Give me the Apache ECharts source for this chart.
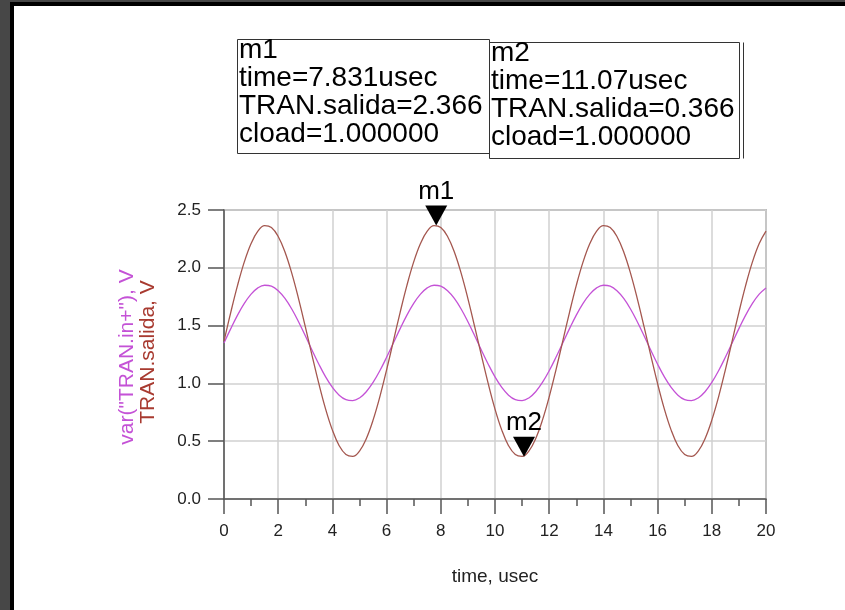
<!DOCTYPE html>
<html>
<head>
<meta charset="utf-8">
<title>TRAN salida</title>
<script src="https://cdn.jsdelivr.net/npm/echarts@6/dist/echarts.min.js"></script>
<style>
    html, body { margin: 0; padding: 0; background: #fff; }
    #chart { width: 845px; height: 610px; }
</style>
</head>
<body>
<div id="chart"></div>
<script>
    // time axis (usec), one sample every 0.25 usec
    var times = [
        0, 0.25, 0.5, 0.75, 1, 1.25, 1.5, 1.75, 2, 2.25, 2.5, 2.75, 3, 3.25, 3.5, 3.75,
        4, 4.25, 4.5, 4.75, 5, 5.25, 5.5, 5.75, 6, 6.25, 6.5, 6.75, 7, 7.25, 7.5, 7.75,
        8, 8.25, 8.5, 8.75, 9, 9.25, 9.5, 9.75, 10, 10.25, 10.5, 10.75, 11, 11.25, 11.5, 11.75,
        12, 12.25, 12.5, 12.75, 13, 13.25, 13.5, 13.75, 14, 14.25, 14.5, 14.75, 15, 15.25, 15.5, 15.75,
        16, 16.25, 16.5, 16.75, 17, 17.25, 17.5, 17.75, 18, 18.25, 18.5, 18.75, 19, 19.25, 19.5, 19.75, 20
    ];

    // TRAN.salida, V
    var salida = [
        1.366, 1.615, 1.848, 2.051, 2.210, 2.317, 2.364, 2.348, 2.271, 2.137, 1.954, 1.734, 1.491,
        1.241, 0.998, 0.778, 0.596, 0.461, 0.384, 0.368, 0.415, 0.522, 0.682, 0.884, 1.117,
        1.366, 1.615, 1.848, 2.051, 2.210, 2.317, 2.364, 2.348, 2.271, 2.137, 1.954, 1.734, 1.491,
        1.241, 0.998, 0.778, 0.596, 0.461, 0.384, 0.368, 0.415, 0.522, 0.682, 0.884, 1.117,
        1.366, 1.615, 1.848, 2.051, 2.210, 2.317, 2.364, 2.348, 2.271, 2.137, 1.954, 1.734, 1.491,
        1.241, 0.998, 0.778, 0.596, 0.461, 0.384, 0.368, 0.415, 0.522, 0.682, 0.884, 1.117,
        1.366, 1.615, 1.848, 2.051, 2.210, 2.317
    ];

    // var("TRAN.in+"), V
    var inPlus = [
        1.350, 1.474, 1.591, 1.692, 1.772, 1.826, 1.849, 1.841, 1.802, 1.735, 1.644, 1.534, 1.413,
        1.287, 1.166, 1.056, 0.965, 0.898, 0.859, 0.851, 0.874, 0.928, 1.008, 1.109, 1.226,
        1.350, 1.474, 1.591, 1.692, 1.772, 1.826, 1.849, 1.841, 1.802, 1.735, 1.644, 1.534, 1.413,
        1.287, 1.166, 1.056, 0.965, 0.898, 0.859, 0.851, 0.874, 0.928, 1.008, 1.109, 1.226,
        1.350, 1.474, 1.591, 1.692, 1.772, 1.826, 1.849, 1.841, 1.802, 1.735, 1.644, 1.534, 1.413,
        1.287, 1.166, 1.056, 0.965, 0.898, 0.859, 0.851, 0.874, 0.928, 1.008, 1.109, 1.226,
        1.350, 1.474, 1.591, 1.692, 1.772, 1.826
    ];

    // marker readouts
    var markerNames = ['m1', 'm2'];
    var markerTimes = [7.831, 11.07];
    var markerValues = [2.366, 0.366];
    var markerCload = ['1.000000', '1.000000'];
    var markerTimeText = ['7.831usec', '11.07usec'];

    var brown = '#a4574f';
    var magenta = '#c452d6';
    var font = '"Liberation Sans", Arial, sans-serif';

    function boxText(i) {
        return [
            markerNames[i],
            'time=' + markerTimeText[i],
            'TRAN.salida=' + markerValues[i].toFixed(3),
            'cload=' + markerCload[i]
        ].join('\n');
    }

    var chart = echarts.init(document.getElementById('chart'));

    var option = {
        backgroundColor: '#fff',
        animation: false,
        grid: {
            left: 224, top: 210, width: 542, height: 289,
            show: true,
            borderColor: '#8a8a8a',
            borderWidth: 1.5
        },
        xAxis: {
            type: 'value',
            min: 0, max: 20, interval: 2,
            name: 'time, usec',
            nameLocation: 'middle',
            nameGap: 68,
            nameTextStyle: { fontFamily: font, fontSize: 19, color: '#222' },
            axisLine: { show: true, lineStyle: { color: '#555', width: 1.5 } },
            axisTick: { show: true, length: 15, lineStyle: { color: '#555', width: 1.5 } },
            minorTick: { show: true, splitNumber: 2, length: 7, lineStyle: { color: '#555', width: 1.5 } },
            axisLabel: { fontFamily: font, fontSize: 17, color: '#222', margin: 24 },
            splitLine: { show: true, lineStyle: { color: '#d0d0d0', width: 1.5 } }
        },
        yAxis: {
            type: 'value',
            min: 0, max: 2.5, interval: 0.5,
            axisLine: { show: true, lineStyle: { color: '#555', width: 1.5 } },
            axisTick: { show: true, length: 16, lineStyle: { color: '#555', width: 1.5 } },
            axisLabel: {
                fontFamily: font, fontSize: 17, color: '#222', margin: 23,
                formatter: function (v) { return v.toFixed(1); }
            },
            splitLine: { show: true, lineStyle: { color: '#d0d0d0', width: 1.5 } }
        },
        series: [
            {
                name: 'var("TRAN.in+")',
                type: 'line',
                showSymbol: false,
                smooth: 0.4,
                lineStyle: { color: magenta, width: 1.3 },
                data: times.map(function (t, i) { return [t, inPlus[i]]; })
            },
            {
                name: 'TRAN.salida',
                type: 'line',
                showSymbol: false,
                smooth: 0.4,
                lineStyle: { color: brown, width: 1.3 },
                data: times.map(function (t, i) { return [t, salida[i]]; }),
                markPoint: {
                    symbol: 'path://M0,0 L20,0 L10,20 Z',
                    symbolSize: [22, 20],
                    symbolOffset: [0, '-50%'],
                    itemStyle: { color: '#000' },
                    label: {
                        show: true, position: 'top', distance: 1,
                        formatter: '{b}', fontFamily: font, fontSize: 26, color: '#000'
                    },
                    data: markerNames.map(function (n, i) {
                        return { name: n, coord: [markerTimes[i], markerValues[i]] };
                    })
                }
            }
        ],
        graphic: [
            // window frame
            { type: 'rect', shape: { x: 0, y: 0, width: 845, height: 6 }, style: { fill: '#000' } },
            { type: 'rect', shape: { x: 0, y: 0, width: 845, height: 2 }, style: { fill: '#474747' } },
            { type: 'rect', shape: { x: 0, y: 0, width: 10, height: 610 }, style: { fill: '#474747' } },
            { type: 'rect', shape: { x: 10, y: 2, width: 4, height: 608 }, style: { fill: '#000' } },
            // marker boxes
            { type: 'rect', shape: { x: 237.5, y: 39.5, width: 252, height: 114 },
              style: { fill: 'none', stroke: '#333', lineWidth: 1 } },
            { type: 'text', left: 239, top: 36,
              style: { text: boxText(0), font: '28px ' + font, fill: '#000', lineHeight: 28 } },
            { type: 'rect', shape: { x: 489.5, y: 42.5, width: 250, height: 116 },
              style: { fill: 'none', stroke: '#333', lineWidth: 1 } },
            { type: 'line', shape: { x1: 743.5, y1: 42.5, x2: 743.5, y2: 158.5 },
              style: { stroke: '#333', lineWidth: 1 } },
            { type: 'text', left: 491, top: 39,
              style: { text: boxText(1), font: '28px ' + font, fill: '#000', lineHeight: 28 } },
            // y axis names
            { type: 'text', x: 127, y: 357, rotation: Math.PI / 2,
              style: { text: 'var("TRAN.in+"), V', font: '21px ' + font, fill: magenta,
                       align: 'center', verticalAlign: 'middle' } },
            { type: 'text', x: 148, y: 352, rotation: Math.PI / 2,
              style: { text: 'TRAN.salida, V', font: '21px ' + font, fill: '#a83a30',
                       align: 'center', verticalAlign: 'middle' } }
        ]
    };

    chart.setOption(option);
</script>
</body>
</html>
